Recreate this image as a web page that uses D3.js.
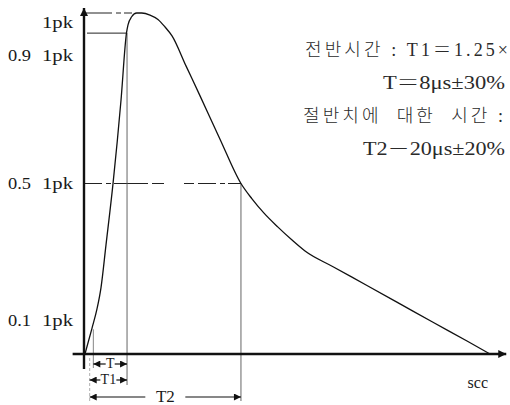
<!DOCTYPE html>
<html>
<head>
<meta charset="utf-8">
<script src="https://cdn.jsdelivr.net/npm/d3@7"></script>
<style>
  body { margin: 0; background: #fff; }
  svg { display: block; }
  text { font-family: "Liberation Serif", "DejaVu Serif", serif; fill: #1a1a1a; }
  text.kr { font-family: "Liberation Serif", "Noto Sans CJK KR", serif; font-weight: 300; fill: #2a2a2a; }
</style>
</head>
<body>
<svg id="chart"></svg>
<script>
//////////////////////////
// Data
//////////////////////////
// impulse wave: time (arbitrary, ~us) vs level (fraction of Ipk)
const waveTime = [0.12, 0.99, 1.6, 2.09, 2.71, 3.57, 4.56, 5.23, 5.42, 5.87, 6.49, 7.11,
  8.13, 9.11, 9.98, 10.84, 12.56, 14.29, 16.75, 19.33, 20.69, 22.17, 23.89, 25.62,
  27.22, 30.67, 34.85, 38.92, 42.98, 47.17, 50];
const waveLevel = [0, 0.076, 0.132, 0.194, 0.32, 0.499, 0.745, 0.941, 0.965, 0.989, 1.0, 1.0,
  0.994, 0.981, 0.959, 0.933, 0.845, 0.757, 0.63, 0.5, 0.455, 0.413, 0.372, 0.334,
  0.302, 0.256, 0.201, 0.147, 0.093, 0.038, 0];

// level labels on the y axis
const tickValues = [1, 0.9, 0.5, 0.1];
const tickPrefix = ["", "0.9", "0.5", "0.1"];
const tickUnit = "1pk";

// guide points (as drawn)
const peakTime = 6.49, peakLevel = 1;
const rise90Time = 5.3, rise90Level = 0.941;
const rise10Time = 1.15, rise10Level = 0.09;
const half50Time = 19.33, half50Level = 0.5;
const originTime = 0.7;

// dimension rows under the axis
const dimLabels = ["T", "T1", "T2"];
const dimStart = [rise10Time, originTime, originTime];
const dimEnd = [rise90Time, rise90Time, half50Time];

// note text
const noteLines = ["전반시간 : T1＝1.25×", "T＝8μs±30%", "절반치에  대한  시간 :", "T2－20μs±20%"];
const xUnit = "scc";

//////////////////////////
// Chart specifications //
//////////////////////////
const width = 510, height = 405;
const margin = { top: 13, right: 20, bottom: 51, left: 84 };

const x = d3.scaleLinear().domain([0, 50]).range([margin.left, width - margin.right]);
const y = d3.scaleLinear().domain([0, 1]).range([height - margin.bottom, margin.top]);

const svg = d3.select("#chart").attr("width", width).attr("height", height);

const defs = svg.append("defs");
defs.append("marker")
  .attr("id", "head")
  .attr("viewBox", "0 0 10 10")
  .attr("refX", 10).attr("refY", 5)
  .attr("markerWidth", 10).attr("markerHeight", 8)
  .attr("markerUnits", "userSpaceOnUse")
  .attr("orient", "auto-start-reverse")
  .append("path").attr("d", "M0,0L10,5L0,10Z").attr("fill", "#111");
defs.append("marker")
  .attr("id", "dimhead")
  .attr("viewBox", "0 0 10 10")
  .attr("refX", 10).attr("refY", 5)
  .attr("markerWidth", 9).attr("markerHeight", 7)
  .attr("markerUnits", "userSpaceOnUse")
  .attr("orient", "auto-start-reverse")
  .append("path").attr("d", "M0,0L10,5L0,10Z").attr("fill", "#111");

//////////////////////////
// Guide lines
//////////////////////////
const guides = svg.append("g").attr("fill", "none");

// peak level (dashed)
guides.append("line")
  .attr("x1", x(0)).attr("x2", x(peakTime) - 2)
  .attr("y1", y(peakLevel)).attr("y2", y(peakLevel))
  .attr("stroke", "#222").attr("stroke-width", 1)
  .attr("stroke-dasharray", "28,4,5,3,8,3");

// 0.9 level
guides.append("line")
  .attr("x1", x(0) + 3).attr("x2", x(rise90Time))
  .attr("y1", y(rise90Level)).attr("y2", y(rise90Level))
  .attr("stroke", "#222").attr("stroke-width", 1);

// 0.5 level (dash-dot)
guides.append("line")
  .attr("x1", x(0)).attr("x2", x(half50Time))
  .attr("y1", y(half50Level)).attr("y2", y(half50Level))
  .attr("stroke", "#222").attr("stroke-width", 1)
  .attr("stroke-dasharray", "18,4,5,3,34,4,12,20,10,4");

// verticals
guides.append("line")
  .attr("x1", x(rise90Time)).attr("x2", x(rise90Time))
  .attr("y1", y(rise90Level)).attr("y2", 385)
  .attr("stroke", "#555").attr("stroke-width", 0.9);
guides.append("line")
  .attr("x1", x(half50Time)).attr("x2", x(half50Time))
  .attr("y1", y(half50Level)).attr("y2", 401)
  .attr("stroke", "#555").attr("stroke-width", 0.9);
guides.append("line")
  .attr("x1", x(rise10Time)).attr("x2", x(rise10Time))
  .attr("y1", y(rise10Level) + 6).attr("y2", 368)
  .attr("stroke", "#666").attr("stroke-width", 0.8);
guides.append("line")
  .attr("x1", x(originTime)).attr("x2", x(originTime))
  .attr("y1", 358).attr("y2", 402)
  .attr("stroke", "#999").attr("stroke-width", 0.8)
  .attr("stroke-dasharray", "3,2");

//////////////////////////
// Axes
//////////////////////////
svg.append("line")
  .attr("x1", x(-1.4)).attr("x2", x(52))
  .attr("y1", y(0)).attr("y2", y(0))
  .attr("stroke", "#111").attr("stroke-width", 2.4)
  .attr("marker-end", "url(#head)");
svg.append("line")
  .attr("x1", x(0)).attr("x2", x(0))
  .attr("y1", y(0) + 15).attr("y2", y(1) - 5)
  .attr("stroke", "#111").attr("stroke-width", 2.4)
  .attr("marker-end", "url(#head)");

// level labels
const ticks = svg.append("g").attr("font-size", 16);
tickValues.forEach((v, i) => {
  const ty = y(v) + (v === 1 ? 11 : v >= 0.9 ? 10 : 2);
  if (tickPrefix[i]) {
    ticks.append("text")
      .attr("x", 8).attr("y", ty)
      .attr("dominant-baseline", "middle")
      .attr("textLength", 23).attr("lengthAdjust", "spacingAndGlyphs")
      .text(tickPrefix[i]);
  }
  ticks.append("text")
    .attr("x", 73).attr("y", ty)
    .attr("text-anchor", "end")
    .attr("dominant-baseline", "middle")
    .attr("textLength", 31).attr("lengthAdjust", "spacingAndGlyphs")
    .text(tickUnit);
});

svg.append("text")
  .attr("x", x(48.5)).attr("y", 384)
  .attr("text-anchor", "middle").attr("dominant-baseline", "middle")
  .attr("font-size", 16)
  .text(xUnit);

//////////////////////////
// Wave curve
//////////////////////////
const waveData = waveTime.map((t, i) => ({ t: t, v: waveLevel[i] }));
const line = d3.line()
  .x((d) => x(d.t))
  .y((d) => y(d.v))
  .curve(d3.curveMonotoneX);

svg.append("path")
  .datum(waveData)
  .attr("d", line)
  .attr("fill", "none")
  .attr("stroke", "#111")
  .attr("stroke-width", 1.3);

//////////////////////////
// Dimension rows
//////////////////////////
const rowY = [364, 380, 397];
const rowFont = [14, 14, 17];
const dims = svg.append("g");
dimLabels.forEach((lab, i) => {
  const x1 = x(dimStart[i]), x2 = x(dimEnd[i]);
  const cx = (x1 + x2) / 2;
  [x1, x2].forEach((xe) => {
    dims.append("line")
      .attr("x1", cx).attr("x2", xe)
      .attr("y1", rowY[i]).attr("y2", rowY[i])
      .attr("stroke", "#111").attr("stroke-width", 1.2)
      .attr("marker-end", "url(#dimhead)");
  });
  const tw = i === 2 ? 40 : lab.length * 7 + 2;
  dims.append("rect")
    .attr("x", cx - tw / 2).attr("y", rowY[i] - 6)
    .attr("width", tw).attr("height", 12)
    .attr("fill", "#fff");
  dims.append("text")
    .attr("x", cx).attr("y", rowY[i] + 1)
    .attr("text-anchor", "middle").attr("dominant-baseline", "middle")
    .attr("font-size", rowFont[i])
    .text(lab);
});

//////////////////////////
// Notes
//////////////////////////
const noteRight = [508, 505, 503, 505];
const noteWidth = [203, 122, 200, 142];
const noteAdjust = ["spacing", "spacingAndGlyphs", "spacing", "spacingAndGlyphs"];
const notes = svg.append("g");
noteLines.forEach((s, i) => {
  notes.append("text")
    .attr("class", "kr")
    .attr("font-size", 18)
    .attr("x", noteRight[i]).attr("y", 52 + i * 33)
    .attr("text-anchor", "end").attr("dominant-baseline", "middle")
    .attr("xml:space", "preserve")
    .attr("textLength", noteWidth[i]).attr("lengthAdjust", noteAdjust[i])
    .text(s);
});
</script>
</body>
</html>
